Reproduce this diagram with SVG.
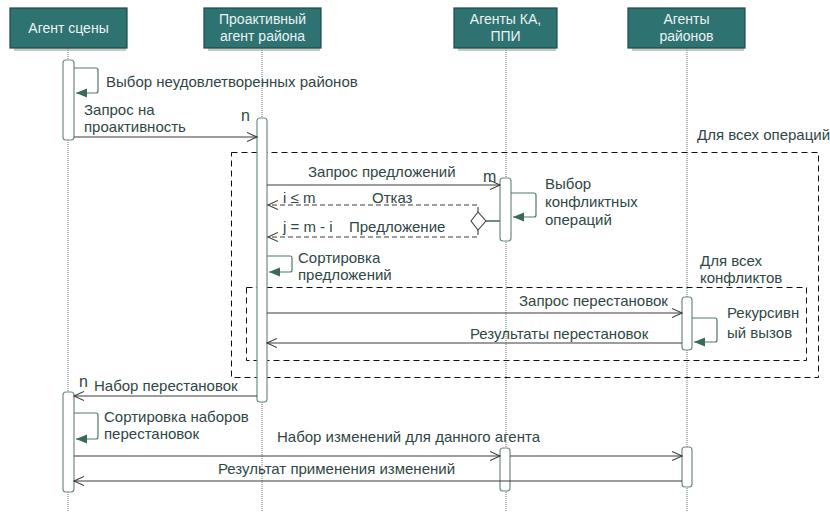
<svg xmlns="http://www.w3.org/2000/svg" width="830" height="514" viewBox="0 0 830 514">
<style>
text{font-family:"Liberation Sans",Arial,sans-serif;font-size:15px;fill:#2f4746}
.hd rect.b{fill:#2e7272;stroke:#1d4a4a;stroke-width:1.2}
.hd rect.s{fill:#9a9a9a;opacity:0.55}
.hd text{fill:#eaf3f2;text-anchor:middle;font-size:14px}
.life{stroke:#7f8a88;stroke-width:1.2;stroke-dasharray:1,1}
.act{fill:#fff;stroke:#6f8c84;stroke-width:1.2}
.msg{fill:none;stroke:#3c3c3c;stroke-width:1.1}
.ret{fill:none;stroke:#3c3c3c;stroke-width:1.1;stroke-dasharray:5,3}
.self{fill:none;stroke:#4f7a6c;stroke-width:1.2}
.frame{fill:none;stroke:#111;stroke-width:1;stroke-dasharray:6,4}
</style>
<defs>
<marker id="open" markerUnits="userSpaceOnUse" markerWidth="12" markerHeight="12" refX="10" refY="5" orient="auto">
<path d="M0,0.5 L10,5 L0,9.5" fill="none" stroke="#3c3c3c" stroke-width="1.1"/>
</marker>
<marker id="fill" markerUnits="userSpaceOnUse" markerWidth="12" markerHeight="12" refX="11" refY="4.5" orient="auto">
<path d="M0,0 L11,4.5 L0,9 Z" fill="#3b6a57"/>
</marker>
</defs>

<g id="lifelines">
<line class="life" x1="68" y1="48" x2="68" y2="512"/>
<line class="life" x1="262" y1="48" x2="262" y2="512"/>
<line class="life" x1="506" y1="48" x2="506" y2="512"/>
<line class="life" x1="687" y1="48" x2="687" y2="512"/>
</g>

<g id="frames">
<rect class="frame" x="231.5" y="152.5" width="587" height="225"/>
<text x="697" y="140">Для всех операций</text>
<rect class="frame" x="246.5" y="287.5" width="560" height="73"/>
<text x="700" y="266">Для всех</text>
<text x="700" y="283">конфликтов</text>
</g>

<g id="n-scene" class="hd">
<rect class="s" x="14" y="46" width="112" height="5"/>
<rect class="b" x="10" y="8" width="117" height="40"/>
<text x="68.5" y="33">Агент сцены</text>
</g>
<g id="n-proactive" class="hd">
<rect class="s" x="208" y="46" width="112" height="5"/>
<rect class="b" x="204" y="8" width="117" height="40"/>
<text x="262.5" y="24">Проактивный</text>
<text x="262.5" y="41">агент района</text>
</g>
<g id="n-ka" class="hd">
<rect class="s" x="458" y="46" width="98" height="5"/>
<rect class="b" x="454" y="8" width="103" height="40"/>
<text x="505.5" y="24">Агенты КА,</text>
<text x="505.5" y="41">ППИ</text>
</g>
<g id="n-districts" class="hd">
<rect class="s" x="632" y="46" width="112" height="5"/>
<rect class="b" x="628" y="8" width="117" height="40"/>
<text x="686.5" y="24">Агенты</text>
<text x="686.5" y="41">районов</text>
</g>

<g id="activations">
<rect class="act" x="63" y="60" width="11" height="80" rx="3"/>
<rect class="act" x="63" y="392" width="11" height="100" rx="3"/>
<rect class="act" x="257" y="118" width="10" height="284" rx="3"/>
<rect class="act" x="500" y="178" width="11" height="63" rx="3"/>
<rect class="act" x="500" y="448" width="10" height="43" rx="3"/>
<rect class="act" x="682" y="297" width="10" height="53" rx="3"/>
<rect class="act" x="682" y="447" width="10" height="40" rx="3"/>
</g>

<g id="connectors">
<path class="self" d="M74,68 H96 Q98,68 98,70 V91 Q98,93 96,93 H76" marker-end="url(#fill)"/>
<text x="106" y="87">Выбор неудовлетворенных районов</text>

<line class="msg" x1="74" y1="137" x2="257" y2="137" marker-end="url(#open)"/>
<text x="84" y="115">Запрос на</text>
<text x="84" y="132">проактивность</text>
<text x="241" y="121" style="font-size:16px">n</text>

<line class="msg" x1="267" y1="185" x2="500" y2="185" marker-end="url(#open)"/>
<text x="308" y="177">Запрос предложений</text>
<text x="483" y="182" style="font-size:16px">m</text>

<path class="self" d="M511,193 H534 Q536,193 536,195 V215 Q536,217 534,217 H513" marker-end="url(#fill)"/>
<text x="545" y="189">Выбор</text>
<text x="545" y="207">конфликтных</text>
<text x="545" y="225">операций</text>

<polygon points="471,221 478,212 486,221 478,230" fill="#fff" stroke="#3c3c3c" stroke-width="1.1"/>
<line x1="486" y1="221" x2="500" y2="221" stroke="#4f6f66" stroke-width="1.6"/>
<path class="ret" d="M478,212 V205 H268" marker-end="url(#open)"/>
<path class="ret" d="M478,230 V237 H268" marker-end="url(#open)"/>
<text x="283" y="203">i ≤ m</text>
<text x="372" y="203">Отказ</text>
<text x="283" y="232">j = m - i</text>
<text x="349" y="232">Предложение</text>

<path class="self" d="M267,256 H290 Q292,256 292,258 V270 Q292,272 290,272 H269" marker-end="url(#fill)"/>
<text x="298" y="263">Сортировка</text>
<text x="298" y="280">предложений</text>

<line class="msg" x1="267" y1="313" x2="682" y2="313" marker-end="url(#open)"/>
<text x="519" y="306">Запрос перестановок</text>
<line class="msg" x1="682" y1="343" x2="267" y2="343" marker-end="url(#open)"/>
<text x="470" y="339">Результаты перестановок</text>
<path class="self" d="M692,318 H715 Q717,318 717,320 V340 Q717,342 715,342 H694" marker-end="url(#fill)"/>
<text x="727" y="318">Рекурсивн</text>
<text x="727" y="338">ый вызов</text>

<line class="msg" x1="257" y1="396" x2="74" y2="396" marker-end="url(#open)"/>
<text x="79" y="387" style="font-size:16px">n</text>
<text x="94" y="391">Набор перестановок</text>

<path class="self" d="M74,413 H96 Q98,413 98,415 V437 Q98,439 96,439 H76" marker-end="url(#fill)"/>
<text x="104" y="422">Сортировка наборов</text>
<text x="104" y="439">перестановок</text>

<line class="msg" x1="74" y1="456" x2="500" y2="456" stroke="#666" stroke-width="1.6" marker-end="url(#open)"/>
<line class="msg" x1="510" y1="456" x2="682" y2="456" stroke="#666" stroke-width="1.6" marker-end="url(#open)"/>
<text x="277" y="442">Набор изменений для данного агента</text>
<line class="msg" x1="682" y1="481" x2="74" y2="481" marker-end="url(#open)"/>
<text x="218" y="474">Результат применения изменений</text>
</g>
</svg>
